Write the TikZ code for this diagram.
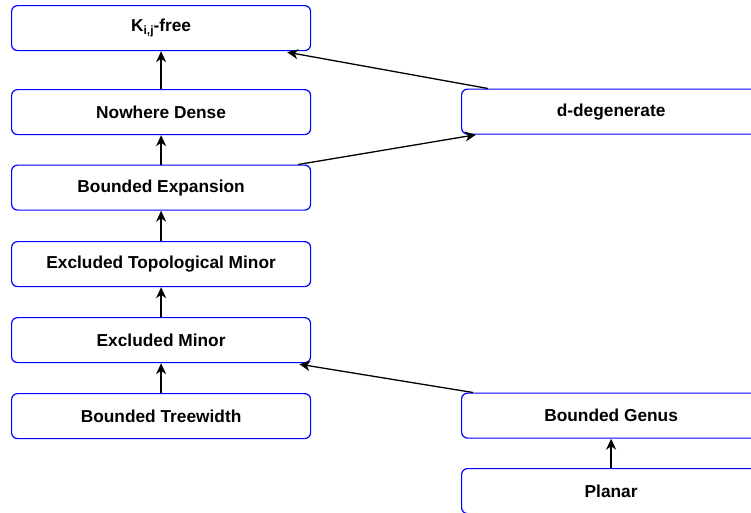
\documentclass[tikz,border=0pt]{standalone}
\usepackage{fontspec}
\setmainfont{Liberation Sans}
\usetikzlibrary{arrows.meta,calc}
\definecolor{boxblue}{RGB}{0,0,255}
\begin{document}
\begin{tikzpicture}[x=1pt,y=-1pt,
  classbox/.style={draw=boxblue,line width=1.2pt,rounded corners=6pt,fill=white,
    minimum width=299pt,minimum height=45pt,anchor=north west,inner sep=0pt,
    font=\fontsize{17.3}{20}\selectfont\bfseries},
  implies/.style={draw=black,line width=1.3pt,-{Stealth[length=11pt,width=10pt,inset=3.5pt]}}]
\useasboundingbox (0,0) rectangle (751,512);
\begin{scope}
\clip (0,0) rectangle (751,512);
\node[classbox] (K) at (11,5) {K\raisebox{-0.35ex}{\fontsize{12}{13}\selectfont i,j}-free};
\node[classbox] (ND) at (11,89) {Nowhere Dense};
\node[classbox] (BE) at (11,164.5) {Bounded Expansion};
\node[classbox] (ETM) at (11,241) {Excluded Topological Minor};
\node[classbox] (EM) at (11,317) {Excluded Minor};
\node[classbox] (BT) at (11,393) {Bounded Treewidth};
\node[classbox] (DD) at (461,88.5) {d-degenerate};
\node[classbox] (BG) at (461,392.5) {Bounded Genus};
\node[classbox] (PL) at (461,468) {Planar};

\draw[implies] (ND.north) -- (K.south);
\draw[implies] (BE.north) -- (ND.south);
\draw[implies] (ETM.north) -- (BE.south);
\draw[implies] (EM.north) -- (ETM.south);
\draw[implies] (BT.north) -- (EM.south);
\draw[implies] (PL.north) -- (BG.south);
\draw[implies] ($(DD.north west)+(27,0)$) -- ($(K.south east)+(-24,1)$);
\draw[implies] ($(BE.north east)+(-13,0)$) -- ($(DD.south west)+(15,0)$);
\draw[implies] ($(BG.north west)+(12,0)$) -- ($(EM.south east)+(-12,1)$);
\end{scope}
\end{tikzpicture}
\end{document}
